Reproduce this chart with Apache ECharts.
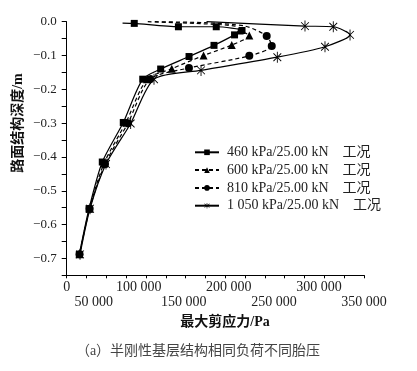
<!DOCTYPE html>
<html><head><meta charset="utf-8">
<script src="https://cdn.jsdelivr.net/npm/echarts@6/dist/echarts.min.js"></script>
<style>html,body{margin:0;padding:0;background:#fff}#c{width:417px;height:371px}</style>
</head><body><div id="c"></div>
<script>
// ---- data ----
const seriesNames = ['460 kPa/25.00 kN    工况', '600 kPa/25.00 kN    工况', '810 kPa/25.00 kN    工况', '1 050 kPa/25.00 kN    工况'];
const s460X = [82000, 95000, 144000, 186000, 214600, 206300, 183500, 155800, 124300, 104400, 82800, 59500, 44800, 34000];
const s460Y = [-0.004, -0.005, -0.015, -0.015, -0.026, -0.039, -0.070, -0.103, -0.140, -0.170, -0.298, -0.415, -0.553, -0.688];
const s600X = [110000, 162000, 207000, 212000, 222700, 203200, 171900, 136600, 109100, 85800, 61400, 45300, 34200];
const s600Y = [0.000, -0.005, -0.013, -0.026, -0.041, -0.069, -0.100, -0.139, -0.170, -0.298, -0.419, -0.553, -0.688];
const s810X = [118000, 173500, 217900, 242000, 247600, 222700, 155700, 112500, 88000, 62500, 45500, 34300];
const s810Y = [0.000, -0.003, -0.013, -0.042, -0.072, -0.101, -0.137, -0.170, -0.300, -0.421, -0.553, -0.688];
const s1050X = [175200, 284500, 315900, 334500, 306700, 253800, 169100, 116900, 91000, 63600, 45900, 34800];
const s1050Y = [0.000, -0.013, -0.015, -0.039, -0.074, -0.105, -0.144, -0.170, -0.301, -0.421, -0.553, -0.688];
// leading points drawn without a visible marker in the reference
const hiddenLead = [1, 3, 3, 1];

const xTickValues = [20000, 50000, 100000, 150000, 200000, 250000, 300000, 350000];
const xTickLabels = ['0', '50 000', '100 000', '150 000', '200 000', '250 000', '300 000', '350 000'];
const yTickValues = [0, -0.1, -0.2, -0.3, -0.4, -0.5, -0.6, -0.7];
const yTickLabels = ['0.0', '\u22120.1', '\u22120.2', '\u22120.3', '\u22120.4', '\u22120.5', '\u22120.6', '\u22120.7'];
const xTitle = '最大剪应力/Pa';
const yTitle = '路面结构深度/m';
const caption = '（a）半刚性基层结构相同负荷不同胎压';

// ---- chart ----
const FONT = 'Liberation Serif, Noto Sans CJK SC, serif';
const asterisk = 'path://M9.2,0L10.8,0L10.8,20L9.2,20Z' +
  'M3.5,2.36L17.64,16.5L16.5,17.64L2.36,3.5Z' +
  'M17.64,3.5L3.5,17.64L2.36,16.5L16.5,2.36Z';
const symbols = ['rect', 'triangle', 'circle', asterisk];
const sizes = [7, 8, 8, 11];
const dashes = ['solid', [4, 3], [4, 3], 'solid'];
const xs = [s460X, s600X, s810X, s1050X];
const ys = [s460Y, s600Y, s810Y, s1050Y];

const series = seriesNames.map((name, k) => ({
  name: name,
  type: 'line',
  xAxisIndex: 0,
  yAxisIndex: 0,
  smooth: 0.25,
  clip: false,
  z: k === 0 ? 5 : 3,
  symbol: symbols[k],
  symbolSize: sizes[k],
  symbolKeepAspect: true,
  showAllSymbol: true,
  lineStyle: { color: '#000', width: 1.2, type: dashes[k] },
  itemStyle: { color: '#000', borderWidth: 0 },
  emphasis: { disabled: true },
  data: xs[k].map((x, i) => i < hiddenLead[k] ? { value: [x, ys[k][i]], symbol: 'none' } : [x, ys[k][i]])
}));

const chart = echarts.init(document.getElementById('c'), null, { renderer: 'canvas' });
chart.setOption({
  animation: false,
  backgroundColor: '#fff',
  grid: { left: 66.7, top: 21.7, right: 53, bottom: 95.7, containLabel: false },
  xAxis: [{
    type: 'value', min: 20000, max: 350000, interval: 10000, position: 'bottom',
    axisLine: { show: true, onZero: false, lineStyle: { color: '#000', width: 1 } },
    axisTick: { show: false },
    splitLine: { show: false },
    axisLabel: {
      show: true, margin: 5, fontSize: 14, lineHeight: 15, color: '#222', fontFamily: FONT,
      showMinLabel: true, showMaxLabel: true,
      formatter: function (v) {
        const i = xTickValues.indexOf(Math.round(v));
        if (i < 0) return '';
        return i % 2 === 0 ? xTickLabels[i] : '\n' + xTickLabels[i];
      }
    }
  }, {
    type: 'value', min: 0, max: 15, interval: 1, position: 'bottom',
    axisLine: { show: true, onZero: false, lineStyle: { color: '#000', width: 1 } },
    axisTick: { show: true, inside: false, length: 3, lineStyle: { color: '#000' } },
    axisLabel: { show: false },
    splitLine: { show: false }
  }],
  yAxis: {
    type: 'value', min: -0.75, max: 0, interval: 0.05,
    axisLine: { show: true, onZero: false, lineStyle: { color: '#000', width: 1 } },
    axisTick: { show: true, inside: false, length: 5, lineStyle: { color: '#000' } },
    splitLine: { show: false },
    axisLabel: {
      margin: 10, fontSize: 13, color: '#222', fontFamily: FONT,
      formatter: function (v) {
        for (let i = 0; i < yTickValues.length; i++) {
          if (Math.abs(v - yTickValues[i]) < 1e-6) return yTickLabels[i];
        }
        return '';
      }
    }
  },
  legend: {
    orient: 'vertical', left: 189, top: 140.3,
    itemWidth: 24, itemHeight: 7, itemGap: 3.8,
    selectedMode: false,
    textStyle: { fontSize: 14, lineHeight: 14, color: '#222', fontFamily: FONT, padding: [0, 0, 0, 3] },
    data: seriesNames
  },
  graphic: [
    { type: 'text', x: 18, y: 123, rotation: Math.PI / 2,
      style: { text: yTitle, fontSize: 14, fontWeight: 'bold', fontFamily: FONT, fill: '#111', textAlign: 'center', textVerticalAlign: 'middle' } },
    { type: 'text', x: 225, y: 322,
      style: { text: xTitle, fontSize: 14, fontWeight: 'bold', fontFamily: FONT, fill: '#111', textAlign: 'center', textVerticalAlign: 'middle' } },
    { type: 'text', x: 198, y: 351,
      style: { text: caption, fontSize: 14, fontFamily: FONT, fill: '#444', textAlign: 'center', textVerticalAlign: 'middle' } }
  ],
  series: series
});
</script>
</body></html>
